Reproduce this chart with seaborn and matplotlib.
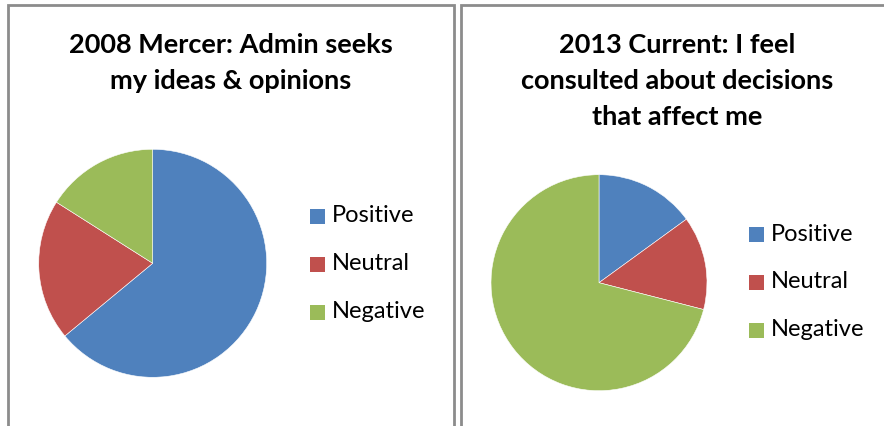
import matplotlib
matplotlib.use("Agg")
import matplotlib.pyplot as plt
from matplotlib.patches import Rectangle
import seaborn as sns

sns.set_theme(style="white")
plt.rcParams["font.family"] = ["Lato", "DejaVu Sans"]

# Survey data
categories = ["Positive", "Neutral", "Negative"]
mercer_2008 = [64, 20, 16]
current_2013 = [15, 14, 71]
titles = [
    "2008 Mercer: Admin seeks\nmy ideas & opinions",
    "2013 Current: I feel\nconsulted about decisions\nthat affect me",
]

colors = sns.color_palette(["#4F81BD", "#C0504D", "#9BBB59"])

W, H = 884, 426
DPI = 100
fig = plt.figure(figsize=(W / DPI, H / DPI), dpi=DPI)
fig.patch.set_facecolor("white")


def px_box(left, top, w, h):
    return [left / W, 1 - (top + h) / H, w / W, h / H]


# Panel frames
border = "#8C8C8C"
for (x0, y0, x1, y1) in [(8, 5, 453.5, 440), (460.5, 5, 900, 440)]:
    fig.add_artist(Rectangle((x0 / W, 1 - y1 / H), (x1 - x0) / W, (y1 - y0) / H,
                             transform=fig.transFigure, fill=False,
                             edgecolor=border, linewidth=2.0, zorder=0))

panels = [
    dict(values=mercer_2008, cx=152.7, cy=263.3, r=114, title=titles[0],
         tx=231, ty=45, lx=310, ly=216),
    dict(values=current_2013, cx=599, cy=282.7, r=108, title=titles[1],
         tx=677, ty=45, lx=749, ly=234),
]

for p in panels:
    ax = fig.add_axes(px_box(p["cx"] - p["r"], p["cy"] - p["r"], 2 * p["r"], 2 * p["r"]))
    ax.pie(p["values"], colors=colors, startangle=90, counterclock=False,
           wedgeprops=dict(edgecolor="white", linewidth=0.4))
    ax.set_xlim(-1, 1)
    ax.set_ylim(-1, 1)
    ax.set_aspect("equal")
    ax.axis("off")

    for k, line in enumerate(p["title"].split("\n")):
        fig.text(p["tx"] / W, 1 - (p["ty"] + 36 * k) / H, line,
                 ha="center", va="center", fontsize=19.5, fontweight="bold",
                 color="black")

    for i, (lab, col) in enumerate(zip(categories, colors)):
        yc = p["ly"] + 48 * i
        fig.add_artist(Rectangle((p["lx"] / W, 1 - (yc + 7.5) / H), 15 / W, 15 / H,
                                 transform=fig.transFigure, facecolor=col,
                                 edgecolor="none"))
        fig.text((p["lx"] + 22) / W, 1 - yc / H, lab, ha="left", va="center",
                 fontsize=17, color="black")

fig.savefig("out.png", dpi=DPI, facecolor="white")
